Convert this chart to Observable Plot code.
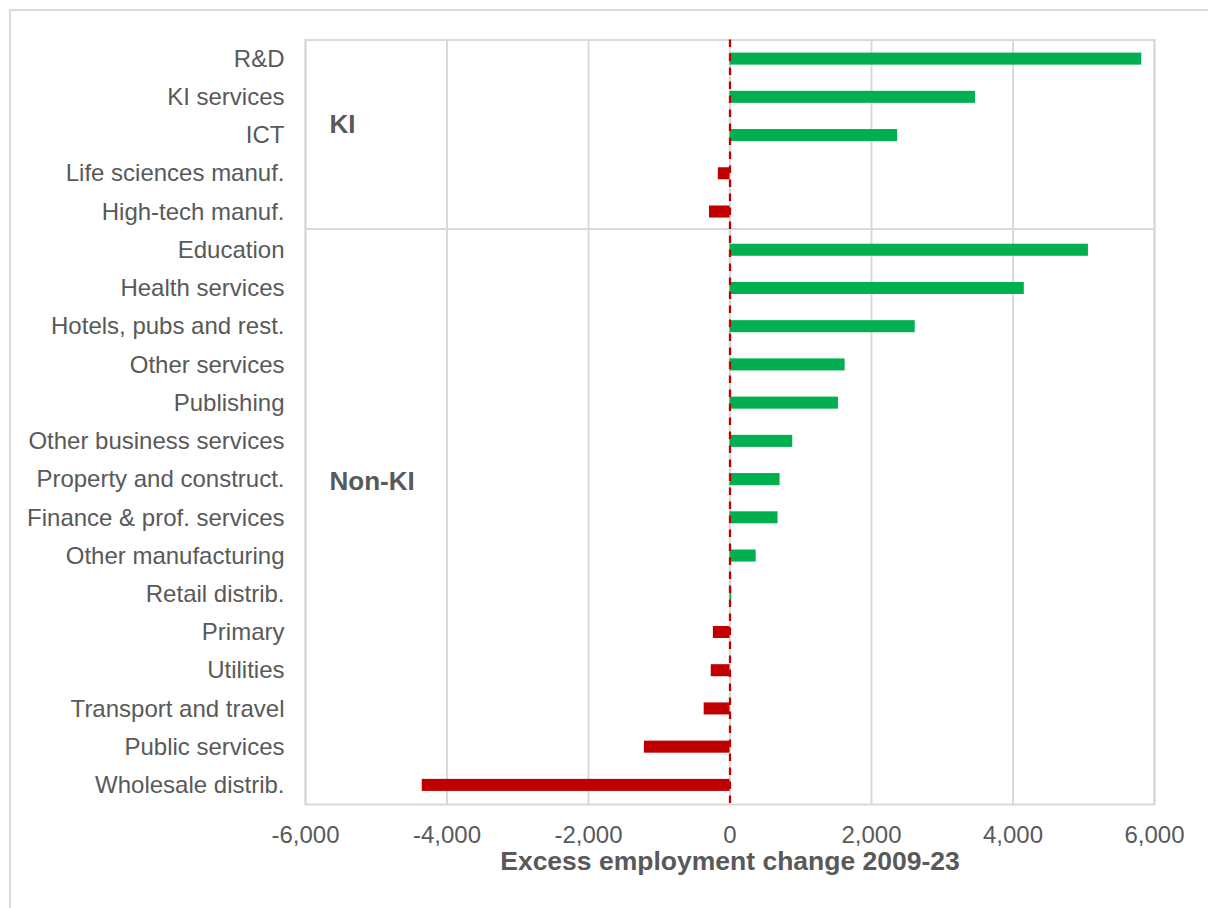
<!DOCTYPE html>
<html>
<head>
<meta charset="utf-8">
<script src="https://cdn.jsdelivr.net/npm/d3@7"></script>
<script src="https://cdn.jsdelivr.net/npm/@observablehq/plot@0.6"></script>
<style>
  html, body { margin: 0; padding: 0; background: #ffffff; overflow: hidden; }
  #wrap { position: relative; width: 1208px; height: 908px; }
  #border { position: absolute; left: 9px; top: 9px; width: 1300px; height: 1000px;
            border: 2px solid #d9d9d9; pointer-events: none; }
</style>
</head>
<body>
<div id="wrap"><div id="border"></div></div>
<script>
const categories = [
  "R&D", "KI services", "ICT", "Life sciences manuf.", "High-tech manuf.",
  "Education", "Health services", "Hotels, pubs and rest.", "Other services",
  "Publishing", "Other business services", "Property and construct.",
  "Finance & prof. services", "Other manufacturing", "Retail distrib.",
  "Primary", "Utilities", "Transport and travel", "Public services",
  "Wholesale distrib."
];
const values = [
  5820, 3470, 2370, -165, -290,
  5066, 4160, 2618, 1627,
  1533, 887, 708,
  679, 370, 25,
  -235, -265, -365, -1210,
  -4350
];
const xTicks = [-6000, -4000, -2000, 0, 2000, 4000, 6000];
const groupLabels = [
  {label: "KI", row: "ICT", shift: -10.5},
  {label: "Non-KI", row: "Property and construct.", shift: 2}
];
const lastKI = "High-tech manuf.";
const axisTitle = "Excess employment change 2009-23";

const data = categories.map((c, i) => ({category: c, value: values[i]}));

const GREEN = "#00B050", RED = "#C00000", GRID = "#d9d9d9", TEXT = "#595959";
const FONT = "'Liberation Sans', Arial, Helvetica, sans-serif";
const fmt = d => (d < 0 ? "-" : "") + d3.format(",")(Math.abs(d));

const chart = Plot.plot({
  width: 1208,
  height: 908,
  marginTop: 39.5,
  marginBottom: 104,
  marginLeft: 305,
  marginRight: 54,
  style: {fontFamily: FONT, color: TEXT, background: "#ffffff", fontSize: "24px"},
  x: {domain: [-6000, 6000]},
  y: {domain: categories, paddingInner: 0.685, paddingOuter: 0.3425, round: false},
  marks: [
    Plot.ruleX(xTicks, {stroke: GRID, strokeWidth: 2}),
    Plot.frame({stroke: GRID, strokeWidth: 2}),
    Plot.ruleY([lastKI], {stroke: GRID, strokeWidth: 2, dy: 17}),
    Plot.barX(data, {
      x: "value", y: "category",
      fill: d => d.value >= 0 ? GREEN : RED
    }),
    Plot.ruleX([0], {stroke: RED, strokeWidth: 2.3, strokeDasharray: "7.5,6.5"}),
    Plot.axisX({
      ticks: xTicks, tickSize: 0, tickPadding: 21,
      tickFormat: fmt, label: null,
      fontSize: 24, fill: TEXT
    }),
    Plot.axisY({
      tickSize: 0, tickPadding: 21, label: null,
      fontSize: 24, fill: TEXT
    }),
    ...groupLabels.map(g => Plot.text([g], {
      x: -5660, y: "row", text: "label", dy: g.shift,
      textAnchor: "start", fontSize: 26, fontWeight: "bold", fill: TEXT
    })),
    Plot.text([axisTitle], {
      frameAnchor: "bottom", dy: 57, lineAnchor: "middle",
      fontSize: 26.5, fontWeight: "bold", fill: TEXT
    })
  ]
});
document.getElementById("wrap").prepend(chart);
</script>
</body>
</html>
